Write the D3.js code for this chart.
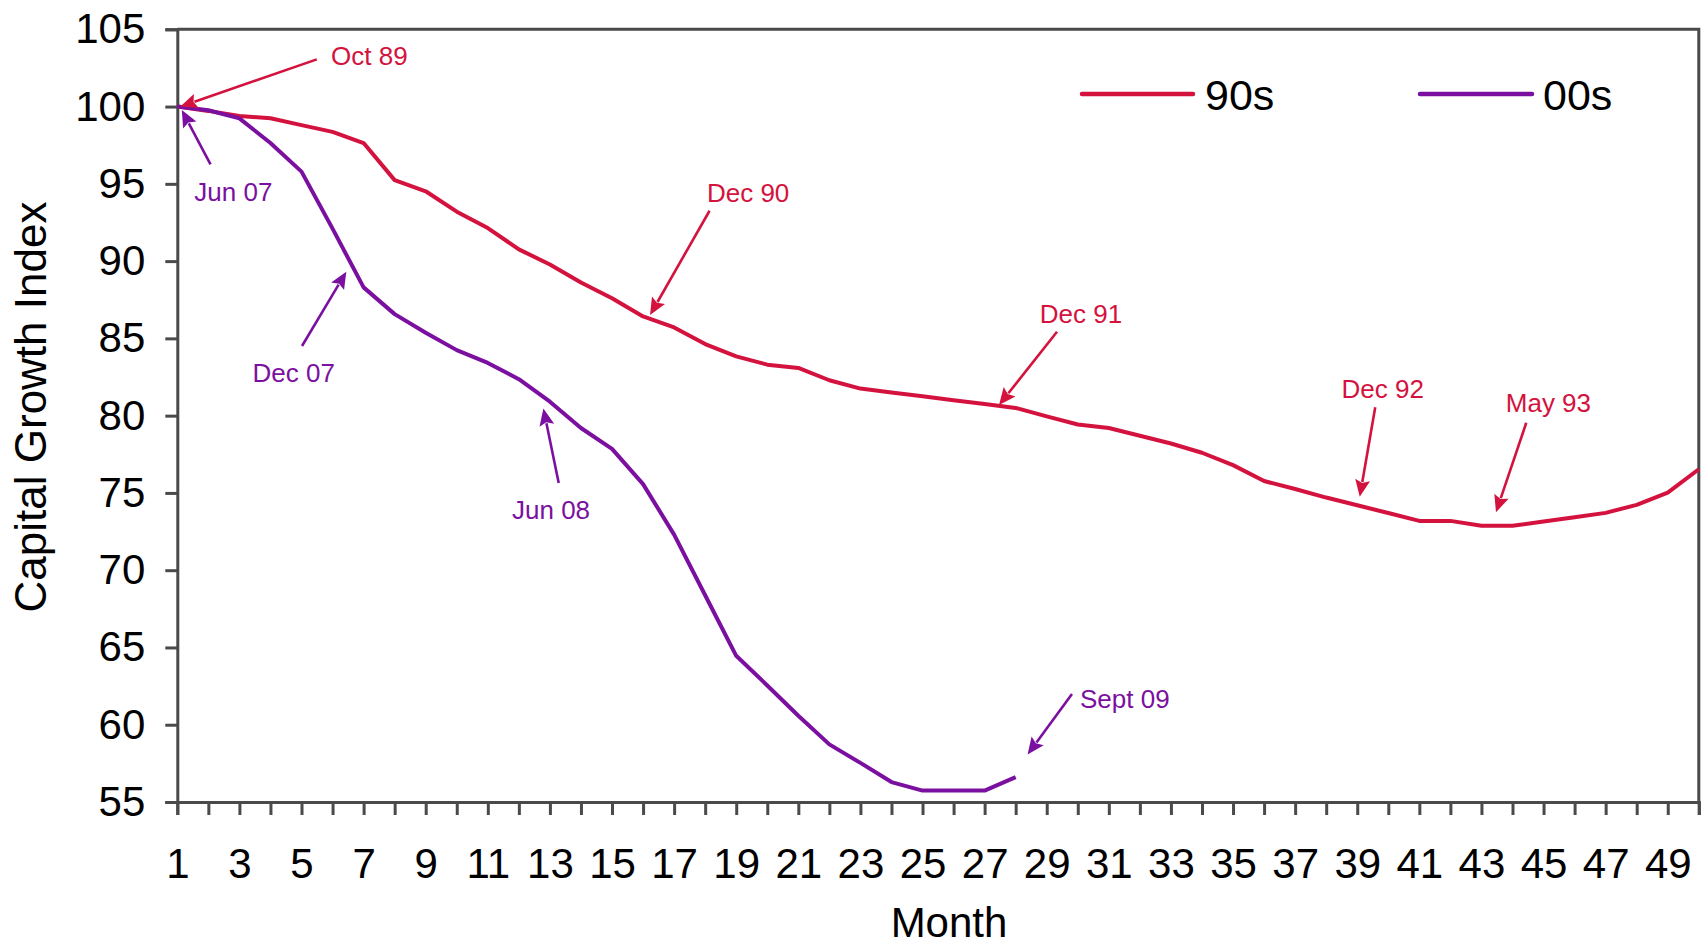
<!DOCTYPE html>
<html>
<head>
<meta charset="utf-8">
<script src="https://cdnjs.cloudflare.com/ajax/libs/d3/7.8.5/d3.min.js"></script>
<style>
  html, body { margin: 0; padding: 0; background: #ffffff; }
  svg { display: block; font-family: "Liberation Sans", Arial, sans-serif; }
</style>
</head>
<body>
<svg id="chart" width="1706" height="946"></svg>
<script>
// Capital growth index, month by month from each downturn's peak
const seriesNames = ["90s", "00s"];
const seriesColors = ["#D4123E", "#7B10A0"];

// 90s cycle: Oct 89 = month 1
const values90s = [
  100, 99.72, 99.39, 99.24, 98.8, 98.36, 97.64, 95.24, 94.52, 93.2,
  92.14, 90.76, 89.78, 88.62, 87.6, 86.42, 85.71, 84.63, 83.84, 83.3,
  83.09, 82.29, 81.75, 81.5, 81.25, 81.0, 80.75, 80.5, 79.95, 79.43,
  79.2, 78.7, 78.2, 77.6, 76.8, 75.77, 75.25, 74.7, 74.2, 73.7,
  73.19, 73.19, 72.87, 72.87, 73.15, 73.43, 73.71, 74.23, 75.02, 76.53
];

// 00s cycle: Jun 07 = month 1
const values00s = [
  100, 99.76, 99.24, 97.64, 95.79, 92.1, 88.3, 86.57, 85.37, 84.24,
  83.41, 82.36, 80.9, 79.2, 77.85, 75.57, 72.3, 68.38, 64.46, 62.54,
  60.58, 58.73, 57.53, 56.29, 55.74, 55.74, 55.74, 56.61
];

const yTicks = [55, 60, 65, 70, 75, 80, 85, 90, 95, 100, 105];
const monthTicks = d3.range(1, 51);

// Date call-outs: which series/month they point at
const calloutLabels = ["Oct 89", "Jun 07", "Dec 07", "Jun 08", "Dec 90", "Dec 91", "Dec 92", "May 93", "Sept 09"];
const calloutSeries = [0, 1, 1, 1, 0, 0, 0, 0, 1];
const calloutMonths = [1, 1, 7, 13, 16, 27, 39, 44, 28];

// Pixel offsets of arrow tip, arrow tail and label, relative to the point
const calloutLayout = [
  { tip: [3, 0],       tail: [139.5, -47.2], text: [153.7, -41.5] },
  { tip: [4.5, 3.5],   tail: [33.2, 57.8],   text: [17, 94.2] },
  { tip: [-17.3, -15.7], tail: [-61.6, 58.6], text: [-111, 94.3] },
  { tip: [-6.5, 6.8],  tail: [8.8, 81.2],    text: [-37.9, 117.5] },
  { tip: [7, -1.4],    tail: [66.5, -105.7], text: [63.9, -114.9] },
  { tip: [14.4, 1],    tail: [72.4, -72.3],  text: [55.2, -81.3] },
  { tip: [2.5, -8.6],  tail: [18, -98],      text: [-15.7, -107.3] },
  { tip: [-16.5, -13.5], tail: [13.8, -103.1], text: [-6.7, -114.1] },
  { tip: [11.9, -22.6], tail: [56.3, -83.1], text: [64.3, -69.1] }
];

const svg = d3.select("#chart");
const plot = { left: 177.3, right: 1698.8, top: 29.3, bottom: 802 };
const axisColor = "#4a4a4a";

const x = d3.scaleLinear().domain([1, 50]).range([plot.left, plot.right]);
const y = d3.scaleLinear().domain([55, 105]).range([plot.bottom, plot.top]);

// Plot frame (top and right edges)
svg.append("path")
  .attr("d", `M${plot.left},${plot.top}H${plot.right}V${plot.bottom}`)
  .attr("fill", "none")
  .attr("stroke", axisColor)
  .attr("stroke-width", 3);

// Y axis
const yAxis = svg.append("g")
  .attr("transform", `translate(${plot.left},0)`)
  .call(d3.axisLeft(y).tickValues(yTicks).tickSize(12).tickPadding(20).tickFormat(d3.format("d")));
yAxis.select(".domain").attr("stroke", axisColor).attr("stroke-width", 3);
yAxis.selectAll(".tick line").attr("stroke", axisColor).attr("stroke-width", 3);
yAxis.selectAll(".tick text").attr("fill", "#000").style("font-size", "42px");

// X axis: a tick every month, labels on odd months
const xAxis = svg.append("g")
  .attr("transform", `translate(0,${plot.bottom})`)
  .call(d3.axisBottom(x).tickValues(monthTicks).tickSize(13).tickPadding(33)
    .tickFormat(d => (d % 2 === 1 ? String(d) : "")));
xAxis.select(".domain").attr("stroke", axisColor).attr("stroke-width", 3);
xAxis.selectAll(".tick line").attr("stroke", axisColor).attr("stroke-width", 3);
xAxis.selectAll(".tick text").attr("fill", "#000").style("font-size", "42px");

// Axis titles
svg.append("text")
  .attr("transform", "translate(46,407) rotate(-90)")
  .attr("text-anchor", "middle")
  .style("font-size", "44px")
  .attr("fill", "#000")
  .text("Capital Growth Index");

svg.append("text")
  .attr("x", 949).attr("y", 937)
  .attr("text-anchor", "middle")
  .style("font-size", "42px")
  .attr("fill", "#000")
  .text("Month");

// Series lines
const allSeries = [values90s, values00s];
const line = d3.line().x((d, i) => x(i + 1)).y(d => y(d));
allSeries.forEach((vals, k) => {
  svg.append("path")
    .datum(vals)
    .attr("d", line)
    .attr("fill", "none")
    .attr("stroke", seriesColors[k])
    .attr("stroke-width", 4)
    .attr("stroke-linejoin", "round");
});

// Legend
const legendItems = [
  { x1: 1082, x2: 1193, tx: 1205 },
  { x1: 1420, x2: 1532, tx: 1543 }
];
legendItems.forEach((it, k) => {
  svg.append("line")
    .attr("x1", it.x1).attr("x2", it.x2)
    .attr("y1", 94).attr("y2", 94)
    .attr("stroke", seriesColors[k])
    .attr("stroke-width", 4.5)
    .attr("stroke-linecap", "round");
  svg.append("text")
    .attr("x", it.tx).attr("y", 110)
    .style("font-size", "43px")
    .attr("fill", "#000")
    .text(seriesNames[k]);
});

// Call-outs with arrows
calloutLabels.forEach((label, i) => {
  const k = calloutSeries[i];
  const m = calloutMonths[i];
  const px = x(m), py = y(allSeries[k][m - 1]);
  const lay = calloutLayout[i];
  const tip = [px + lay.tip[0], py + lay.tip[1]];
  const tail = [px + lay.tail[0], py + lay.tail[1]];
  const color = seriesColors[k];

  const dx = tip[0] - tail[0], dy = tip[1] - tail[1];
  const len = Math.hypot(dx, dy);
  const ux = dx / len, uy = dy / len;
  const headLen = 17, headHalf = 7.5;
  const base = [tip[0] - ux * headLen, tip[1] - uy * headLen];

  svg.append("line")
    .attr("x1", tail[0]).attr("y1", tail[1])
    .attr("x2", base[0] + ux * 2).attr("y2", base[1] + uy * 2)
    .attr("stroke", color)
    .attr("stroke-width", 2.6);

  svg.append("polygon")
    .attr("points", [
      tip,
      [base[0] - uy * headHalf, base[1] + ux * headHalf],
      [base[0] + ux * 3, base[1] + uy * 3],
      [base[0] + uy * headHalf, base[1] - ux * headHalf]
    ].map(p => p.join(",")).join(" "))
    .attr("fill", color);

  svg.append("text")
    .attr("x", px + lay.text[0]).attr("y", py + lay.text[1])
    .style("font-size", "26px")
    .attr("fill", color)
    .text(label);
});
</script>
</body>
</html>
